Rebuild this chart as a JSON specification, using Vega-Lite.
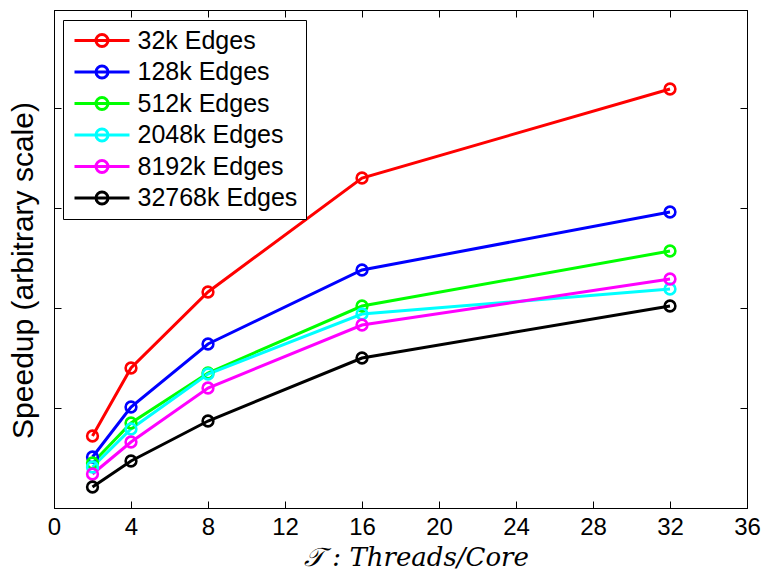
{
  "$schema": "https://vega.github.io/schema/vega-lite/v6.json",
  "width": 693,
  "height": 498,
  "autosize": {"type": "none"},
  "padding": {"left": 54, "top": 10, "right": 19, "bottom": 67},
  "background": "white",
  "config": {
    "view": {"stroke": "black", "strokeWidth": 1},
    "font": "Liberation Sans",
    "axis": {"grid": false, "domainColor": "black", "tickColor": "black", "labelColor": "black", "titleColor": "black", "labelFont": "Liberation Sans", "labelFontSize": 24, "tickSize": -7, "labelFlush": false}
  },
  "data": {
    "values": [
      {"t": 2, "s": 0.72, "series": "32k Edges"},
      {"t": 4, "s": 1.40, "series": "32k Edges"},
      {"t": 8, "s": 2.16, "series": "32k Edges"},
      {"t": 16, "s": 3.30, "series": "32k Edges"},
      {"t": 32, "s": 4.19, "series": "32k Edges"},
      {"t": 2, "s": 0.51, "series": "128k Edges"},
      {"t": 4, "s": 1.01, "series": "128k Edges"},
      {"t": 8, "s": 1.64, "series": "128k Edges"},
      {"t": 16, "s": 2.38, "series": "128k Edges"},
      {"t": 32, "s": 2.96, "series": "128k Edges"},
      {"t": 2, "s": 0.45, "series": "512k Edges"},
      {"t": 4, "s": 0.85, "series": "512k Edges"},
      {"t": 8, "s": 1.35, "series": "512k Edges"},
      {"t": 16, "s": 2.02, "series": "512k Edges"},
      {"t": 32, "s": 2.57, "series": "512k Edges"},
      {"t": 2, "s": 0.41, "series": "2048k Edges"},
      {"t": 4, "s": 0.79, "series": "2048k Edges"},
      {"t": 8, "s": 1.34, "series": "2048k Edges"},
      {"t": 16, "s": 1.94, "series": "2048k Edges"},
      {"t": 32, "s": 2.19, "series": "2048k Edges"},
      {"t": 2, "s": 0.34, "series": "8192k Edges"},
      {"t": 4, "s": 0.66, "series": "8192k Edges"},
      {"t": 8, "s": 1.20, "series": "8192k Edges"},
      {"t": 16, "s": 1.83, "series": "8192k Edges"},
      {"t": 32, "s": 2.29, "series": "8192k Edges"},
      {"t": 2, "s": 0.21, "series": "32768k Edges"},
      {"t": 4, "s": 0.47, "series": "32768k Edges"},
      {"t": 8, "s": 0.87, "series": "32768k Edges"},
      {"t": 16, "s": 1.50, "series": "32768k Edges"},
      {"t": 32, "s": 2.02, "series": "32768k Edges"}
    ]
  },
  "resolve": {"axis": {"x": "independent", "y": "independent"}},
  "layer": [
    {
      "mark": {"type": "line", "strokeWidth": 3, "point": {"filled": false, "size": 115, "strokeWidth": 2.6}},
      "encoding": {
        "x": {"field": "t", "type": "quantitative", "scale": {"domain": [0, 36], "nice": false},
              "axis": {"orient": "bottom", "values": [0, 4, 8, 12, 16, 20, 24, 28, 32, 36], "labelPadding": 14, "labelBaseline": "top",
                       "title": "𝒯 : Threads/Core", "titleFont": "DejaVu Serif", "titleFontStyle": "italic", "titleFontWeight": "normal", "titleFontSize": 26,
                       "titleX": 362, "titleY": 57, "titleAlign": "center", "titleBaseline": "alphabetic"}},
        "y": {"field": "s", "type": "quantitative", "scale": {"domain": [0, 4.98], "nice": false, "zero": false},
              "axis": {"orient": "left", "values": [1, 2, 3, 4], "labels": false,
                       "title": "Speedup (arbitrary scale)", "titleFont": "Liberation Sans", "titleFontWeight": "normal", "titleFontSize": 30,
                       "titleX": -31, "titleY": 260, "titleAngle": -90, "titleAlign": "center", "titleBaseline": "middle"}},
        "color": {"field": "series", "type": "nominal",
                  "scale": {"domain": ["32k Edges", "128k Edges", "512k Edges", "2048k Edges", "8192k Edges", "32768k Edges"],
                            "range": ["#ff0000", "#0000ff", "#00ff00", "#00ffff", "#ff00ff", "#000000"]},
                  "legend": {"orient": "none", "legendX": 9, "legendY": 10, "title": null,
                             "strokeColor": "black", "fillColor": "white", "padding": 8,
                             "symbolType": "M-2.75,0H2.75M-0.6,0A0.6,0.6,0,1,1,0.6,0A0.6,0.6,0,1,1,-0.6,0",
                             "symbolSize": 400, "symbolStrokeWidth": 3, "symbolFillColor": "transparent",
                             "symbolOffset": 18.5, "labelOffset": 23, "labelFontSize": 25, "labelFont": "Liberation Sans", "labelColor": "black",
                             "rowPadding": 5.5, "labelLimit": 400}},
        "order": {"field": "t", "type": "quantitative"}
      }
    },
    {
      "mark": {"type": "point", "opacity": 0},
      "encoding": {
        "x": {"field": "t", "type": "quantitative", "axis": {"orient": "top", "values": [0, 4, 8, 12, 16, 20, 24, 28, 32, 36], "labels": false, "title": null}},
        "y": {"field": "s", "type": "quantitative", "axis": {"orient": "right", "values": [1, 2, 3, 4], "labels": false, "title": null}}
      }
    }
  ]
}
